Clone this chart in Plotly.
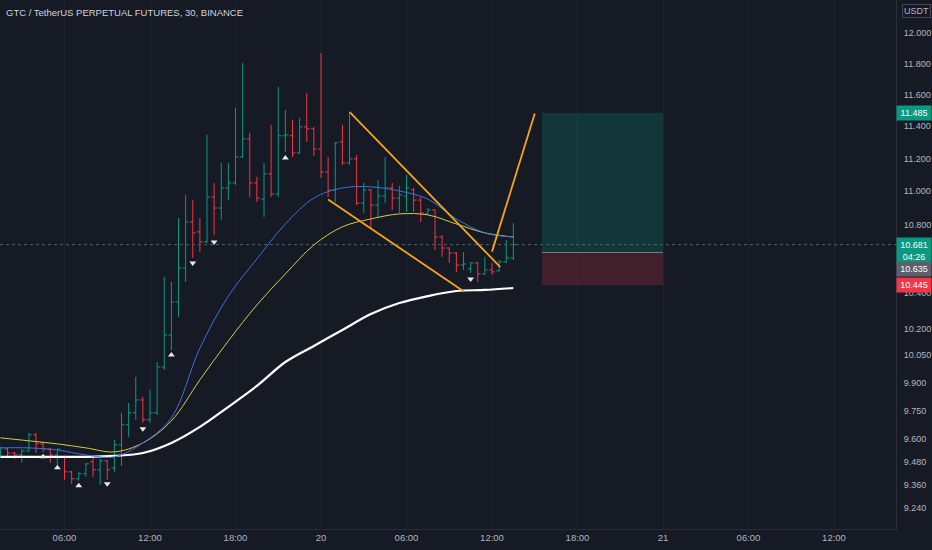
import math
import pandas as pd
import plotly.graph_objects as go

# 30 minute bars, GTCUSDT perpetual
start = "2022-03-19 01:30"
opens = [9.530, 9.545, 9.524, 9.514, 9.535, 9.620, 9.572, 9.545, 9.514, 9.504,
         9.426, 9.390, 9.416, 9.478, 9.436, 9.483, 9.447, 9.567, 9.673, 9.737,
         9.806, 9.700, 9.737, 9.986, 10.163, 10.349, 10.545, 10.815, 10.756, 10.697,
         10.964, 10.898, 11.019, 11.050, 11.209, 11.321, 11.050, 10.952, 11.105, 10.983,
         11.340, 11.340, 11.234, 11.396, 11.384, 11.258, 11.117, 11.007, 11.302, 11.172,
         11.197, 10.928, 11.007, 10.916, 10.970, 11.019, 10.958, 10.970, 11.007, 10.946,
         10.863, 10.887, 10.726, 10.661, 10.632, 10.562, 10.540, 10.574, 10.510, 10.533,
         10.528, 10.580, 10.603]
highs = [9.556, 9.551, 9.531, 9.545, 9.630, 9.630, 9.582, 9.551, 9.545, 9.509,
         9.431, 9.426, 9.473, 9.499, 9.493, 9.488, 9.593, 9.737, 9.790, 9.932,
         9.822, 9.861, 10.013, 10.493, 10.464, 10.839, 10.977, 10.946, 10.839, 11.346,
         11.050, 11.172, 11.172, 11.516, 11.804, 11.359, 11.087, 11.172, 11.409, 11.650,
         11.503, 11.440, 11.453, 11.611, 11.396, 11.869, 11.209, 11.302, 11.409, 11.484,
         11.221, 11.050, 11.013, 11.068, 11.209, 11.050, 11.032, 11.099, 11.019, 10.964,
         10.898, 10.890, 10.738, 10.665, 10.637, 10.637, 10.580, 10.580, 10.609, 10.574,
         10.591, 10.708, 10.809]
lows = [9.504, 9.499, 9.493, 9.473, 9.530, 9.524, 9.530, 9.473, 9.462, 9.385,
        9.364, 9.380, 9.400, 9.400, 9.359, 9.385, 9.426, 9.457, 9.609, 9.700,
        9.684, 9.684, 9.726, 9.970, 10.079, 10.264, 10.464, 10.603, 10.637, 10.691,
        10.738, 10.827, 10.946, 11.038, 11.203, 10.964, 10.934, 10.845, 10.964, 10.964,
        11.240, 11.209, 11.228, 11.302, 11.215, 11.081, 10.964, 10.934, 11.160, 11.160,
        10.916, 10.869, 10.780, 10.839, 10.928, 10.887, 10.869, 10.875, 10.875, 10.815,
        10.857, 10.649, 10.609, 10.574, 10.522, 10.533, 10.516, 10.464, 10.505, 10.505,
        10.522, 10.574, 10.591]
closes = [9.551, 9.524, 9.514, 9.535, 9.620, 9.572, 9.545, 9.514, 9.545, 9.426,
          9.390, 9.416, 9.467, 9.436, 9.483, 9.436, 9.567, 9.673, 9.737, 9.806,
          9.700, 9.737, 9.986, 10.163, 10.349, 10.545, 10.815, 10.750, 10.697, 10.964,
          10.898, 11.019, 11.050, 11.209, 11.321, 11.050, 10.958, 11.105, 10.983, 11.340,
          11.346, 11.234, 11.396, 11.384, 11.258, 11.117, 11.007, 11.296, 11.172, 11.197,
          10.928, 11.007, 10.916, 10.970, 11.019, 10.958, 10.977, 11.019, 10.946, 10.869,
          10.887, 10.726, 10.661, 10.632, 10.562, 10.568, 10.574, 10.510, 10.533, 10.522,
          10.580, 10.603, 10.681]

times = pd.date_range(start, periods=len(opens), freq="30min")

# moving averages, read every 4th bar
ma_times = times[::4]
ma_fast = [9.551, 9.551, 9.540, 9.514, 9.504, 9.577, 9.710, 10.090, 10.383, 10.597,
           10.803, 10.958, 11.019, 11.026, 11.001, 10.952, 10.833, 10.750, 10.726]
ma_mid = [9.604, 9.588, 9.572, 9.551, 9.530, 9.577, 9.694, 9.915, 10.130, 10.332,
          10.510, 10.679, 10.786, 10.833, 10.863, 10.857, 10.803, 10.750, 10.726]
ma_slow = [9.504, 9.504, 9.504, 9.504, 9.509, 9.524, 9.577, 9.662, 9.769, 9.882,
           10.013, 10.102, 10.191, 10.281, 10.343, 10.383, 10.412, 10.418, 10.429]

# signal markers (bar index, price)
up_idx = [6, 8, 11, 24, 40]
up_price = [9.504, 9.447, 9.354, 10.052, 11.203]
down_idx = [15, 20, 27, 30, 66]
down_price = [9.364, 9.652, 10.574, 10.697, 10.481]

# drawings
upper_t = ["2022-03-20 02:00", "2022-03-20 12:35"]
upper_p = [11.49, 10.55]
lower_t = ["2022-03-20 00:30", "2022-03-20 10:00"]
lower_p = [10.95, 10.41]
break_t = ["2022-03-20 12:00", "2022-03-20 15:00"]
break_p = [10.64, 11.48]

pos_t = ["2022-03-20 15:30", "2022-03-21 00:00"]
tp, entry, sl = 11.485, 10.635, 10.445
last_price = 10.681

x_range = ["2022-03-19 01:28:25", "2022-03-21 16:21:04"]
x_ticks = ["2022-03-19 06:00", "2022-03-19 12:00", "2022-03-19 18:00", "2022-03-20 00:00",
           "2022-03-20 06:00", "2022-03-20 12:00", "2022-03-20 18:00", "2022-03-21 00:00",
           "2022-03-21 06:00", "2022-03-21 12:00"]
x_labels = ["06:00", "12:00", "18:00", "20", "06:00", "12:00", "18:00", "21", "06:00", "12:00"]
y_ticks = [12.2, 12.0, 11.8, 11.6, 11.4, 11.2, 11.0, 10.8, 10.4, 10.2, 10.05,
           9.9, 9.75, 9.6, 9.48, 9.36, 9.24]

BG = "#161a25"
UP = "#089981"
DOWN = "#f23645"
FONT = "Liberation Sans, Arial, sans-serif"

fig = go.Figure()

# long position box
fig.add_trace(go.Scatter(x=[pos_t[0], pos_t[1], pos_t[1], pos_t[0], pos_t[0]],
                         y=[entry, entry, tp, tp, entry], fill="toself",
                         fillcolor="rgba(8,153,129,0.22)", line=dict(width=0),
                         mode="lines", hoverinfo="skip"))
fig.add_trace(go.Scatter(x=[pos_t[0], pos_t[1], pos_t[1], pos_t[0], pos_t[0]],
                         y=[sl, sl, entry, entry, sl], fill="toself",
                         fillcolor="rgba(242,54,69,0.2)", line=dict(width=0),
                         mode="lines", hoverinfo="skip"))
fig.add_trace(go.Scatter(x=pos_t, y=[entry, entry], mode="lines",
                         line=dict(color="#787b86", width=1), hoverinfo="skip"))

# last price line
fig.add_trace(go.Scatter(x=x_range, y=[last_price, last_price], mode="lines",
                         line=dict(color="#3f6b70", width=1, dash="dot"), hoverinfo="skip"))

fig.add_trace(go.Ohlc(x=times, open=opens, high=highs, low=lows, close=closes,
                      increasing_line_color=UP, decreasing_line_color=DOWN,
                      line_width=1, tickwidth=0.4, hoverinfo="skip"))

fig.add_trace(go.Scatter(x=ma_times, y=ma_slow, mode="lines", line_shape="spline",
                         line=dict(color="#ffffff", width=2.2)))
fig.add_trace(go.Scatter(x=ma_times, y=ma_mid, mode="lines", line_shape="spline",
                         line=dict(color="#d6cc45", width=1)))
fig.add_trace(go.Scatter(x=ma_times, y=ma_fast, mode="lines", line_shape="spline",
                         line=dict(color="#3d6fe0", width=1)))

fig.add_trace(go.Scatter(x=times[up_idx], y=up_price, mode="markers",
                         marker=dict(symbol="triangle-up", size=6, color="#e8e8ea")))
fig.add_trace(go.Scatter(x=times[down_idx], y=down_price, mode="markers",
                         marker=dict(symbol="triangle-down", size=6, color="#e8e8ea")))

for t, p in [(upper_t, upper_p), (lower_t, lower_p), (break_t, break_p)]:
    fig.add_trace(go.Scatter(x=t, y=p, mode="lines", line=dict(color="#f7a31c", width=1.8)))

# price labels on the right scale
labels = [
    (tp, "11.485", UP, 0),
    (last_price, "10.681<br>04:26", UP, -6),
    (entry, "10.635", "#5d606b", -17),
    (sl, "10.445", DOWN, 0),
]
for p, txt, col, shift in labels:
    fig.add_annotation(xref="paper", x=1, xanchor="left", yref="y", y=math.log10(p),
                       yshift=shift, text=txt, showarrow=False, bgcolor=col, width=30,
                       borderpad=2, font=dict(color="#ffffff", size=9, family=FONT))

fig.add_annotation(xref="paper", x=1, xanchor="left", xshift=6, yref="paper", y=1,
                   yanchor="top", yshift=-4, text="USDT", showarrow=False, bgcolor=BG,
                   bordercolor="#434651", borderwidth=1, borderpad=1,
                   font=dict(color="#b2b5be", size=9, family=FONT))
fig.add_annotation(xref="paper", x=0, xanchor="left", xshift=4, yref="paper", y=1,
                   yanchor="top", yshift=-5, text="GTC / TetherUS PERPETUAL FUTURES, 30, BINANCE",
                   showarrow=False, font=dict(color="#d1d4dc", size=9.5, family=FONT))

fig.update_layout(
    width=932, height=550,
    margin=dict(l=0, r=36, t=0, b=21),
    paper_bgcolor=BG, plot_bgcolor=BG,
    showlegend=False,
    xaxis=dict(type="date", range=x_range, tickvals=x_ticks, ticktext=x_labels,
               showgrid=True, gridcolor="#1d2130", zeroline=False,
               showline=True, linecolor="#2a2e39", rangeslider=dict(visible=False),
               tickfont=dict(color="#b2b5be", size=9.5, family=FONT), automargin=False),
    yaxis=dict(type="log", side="right", range=[0.960661, 1.087065],
               tickvals=y_ticks, ticktext=[f"{v:.3f}" for v in y_ticks],
               showgrid=False, zeroline=False, showline=True, linecolor="#2a2e39",
               ticks="", ticklabelstandoff=5,
               tickfont=dict(color="#b2b5be", size=9, family=FONT), automargin=False),
)

# drop the default page margin so the chart fills the window
fig.write_html("out.html", config={"displayModeBar": False},
               post_script="document.body.style.margin='0';")
